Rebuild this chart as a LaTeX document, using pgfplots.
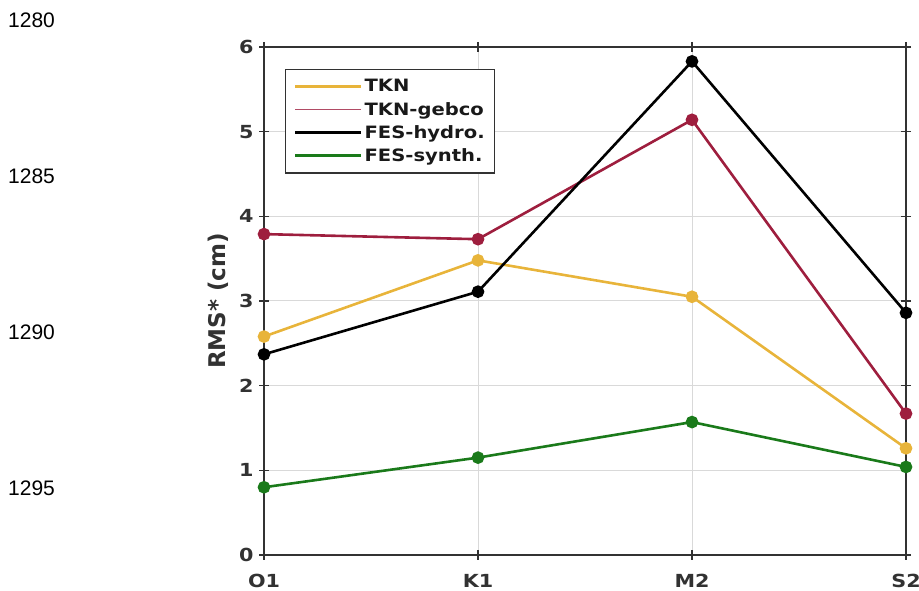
\documentclass[border=0pt]{standalone}
\usepackage{fontspec}
\setmainfont{DejaVu Sans}
\newfontfamily\tickfont[FakeStretch=1.15]{DejaVu Sans}
\newfontfamily\numfont{Liberation Sans}
\usepackage{pgfplots}
\pgfplotsset{compat=1.18}
\definecolor{ctkn}{RGB}{232,180,58}
\definecolor{cgeb}{RGB}{158,30,62}
\definecolor{csyn}{RGB}{26,122,26}
\definecolor{cax}{RGB}{50,50,50}
\begin{document}
\begin{tikzpicture}[x=1pt,y=1pt]
\path[use as bounding box] (0,0) rectangle (919,591);
\node[anchor=west, inner sep=0pt, font=\numfont\fontsize{21}{24}\selectfont] at (8,571) {1280};
\node[anchor=west, inner sep=0pt, font=\numfont\fontsize{21}{24}\selectfont] at (8,415) {1285};
\node[anchor=west, inner sep=0pt, font=\numfont\fontsize{21}{24}\selectfont] at (8,259) {1290};
\node[anchor=west, inner sep=0pt, font=\numfont\fontsize{21}{24}\selectfont] at (8,103) {1295};
\begin{axis}[
  at={(264pt,36pt)}, anchor=south west,
  width=642pt, height=508pt, scale only axis,
  xmin=0, xmax=3, ymin=0, ymax=6,
  xtick={0,1,2,3}, xticklabels={O1,K1,M2,S2},
  ytick={0,1,2,3,4,5,6},
  grid=major, grid style={black!15, line width=1pt},
  axis line style={cax, line width=1.4pt},
  tick style={cax, line width=1.3pt},
  tick align=center, major tick length=10pt,
  ticklabel style={font=\tickfont\bfseries\fontsize{18}{20}\selectfont, text=cax},
  /pgf/number format/assume math mode=true,
  xticklabel style={yshift=-11pt},
  yticklabel style={xshift=-2pt},
  ylabel={RMS* (cm)},
  ylabel style={at={(axis description cs:-0.0717,0.5)}, anchor=center, font=\bfseries\fontsize{23}{26}\selectfont, text=cax},
  clip=false,
  legend style={at={(0.0327,0.957)}, anchor=north west, draw=cax, line width=1.3pt,
    font=\tickfont\bfseries\fontsize{17}{20}\selectfont, text=black!90,
    cells={anchor=west}, row sep=4.8pt, inner xsep=8pt, inner ysep=8pt},
  legend image code/.code={\draw[#1] (0pt,0pt) -- (66pt,0pt);},
]
\addplot[ctkn, line width=2.6pt, mark=*, mark size=5pt, forget plot] coordinates {(0,2.58) (1,3.48) (2,3.05) (3,1.26)};
\addplot[cgeb, line width=2.6pt, mark=*, mark size=5pt, forget plot] coordinates {(0,3.79) (1,3.73) (2,5.14) (3,1.67)};
\addplot[black, line width=2.6pt, mark=*, mark size=5pt, forget plot] coordinates {(0,2.37) (1,3.11) (2,5.83) (3,2.86)};
\addplot[csyn, line width=2.6pt, mark=*, mark size=5pt, forget plot] coordinates {(0,0.80) (1,1.15) (2,1.57) (3,1.04)};
\addlegendimage{ctkn, line width=3pt}\addlegendentry{TKN}
\addlegendimage{cgeb!80, line width=1.2pt}\addlegendentry{TKN-gebco}
\addlegendimage{black, line width=3pt}\addlegendentry{FES-hydro.}
\addlegendimage{csyn, line width=3pt}\addlegendentry{FES-synth.}
\end{axis}
\end{tikzpicture}
\end{document}
